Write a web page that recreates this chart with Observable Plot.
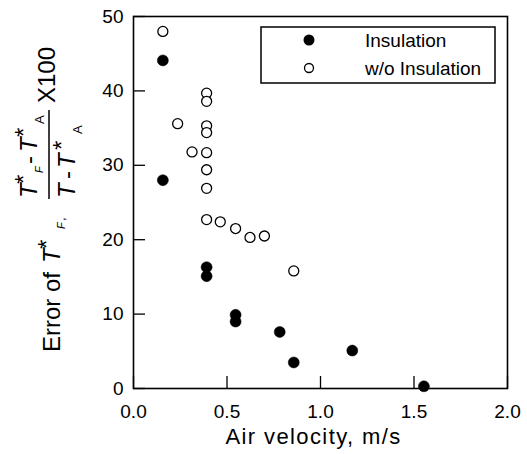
<!DOCTYPE html>
<html>
<head>
<meta charset="utf-8">
<script src="https://cdn.jsdelivr.net/npm/d3@7"></script>
<script src="https://cdn.jsdelivr.net/npm/@observablehq/plot@0.6"></script>
<style>
  html, body { margin: 0; padding: 0; background: white; }
  #wrap { position: relative; width: 527px; height: 454px; font-family: "Liberation Sans", Arial, sans-serif; }
  #wrap > svg { position: absolute; left: 0; top: 0; }
  .overlay { pointer-events: none; }
</style>
</head>
<body>
<div id="wrap"></div>
<script>
// ---- data ----
const velInsulation = [0.157, 0.157, 0.391, 0.391, 0.546, 0.546, 0.782, 0.857, 1.17, 1.553];
const errInsulation = [44.1, 28.0, 16.3, 15.1, 9.9, 9.0, 7.6, 3.5, 5.1, 0.3];
const velNoInsulation = [0.157, 0.236, 0.313, 0.391, 0.391, 0.391, 0.391, 0.391, 0.391, 0.391, 0.391, 0.464, 0.546, 0.623, 0.700, 0.857];
const errNoInsulation = [48.0, 35.6, 31.8, 39.7, 38.6, 35.3, 34.4, 31.7, 29.4, 26.9, 22.7, 22.4, 21.5, 20.3, 20.5, 15.8];
const xTicks = [0, 0.5, 1.0, 1.5, 2.0];
const yTicks = [0, 10, 20, 30, 40, 50];
const seriesNames = ["Insulation", "w/o Insulation"];
const xTitle = "Air velocity, m/s";

const ins = velInsulation.map((v, i) => ({v, e: errInsulation[i]}));
const noIns = velNoInsulation.map((v, i) => ({v, e: errNoInsulation[i]}));

const font = "Liberation Sans, Arial, sans-serif";

const chart = Plot.plot({
  width: 527, height: 454,
  marginLeft: 133, marginRight: 20, marginTop: 16, marginBottom: 66,
  style: {fontFamily: font, fontSize: "19px", background: "white", color: "black", overflow: "visible"},
  x: {domain: [0, 2]},
  y: {domain: [0, 50]},
  marks: [
    Plot.axisX({ticks: xTicks, tickSize: -12, tickPadding: 28, tickFormat: d => d.toFixed(1), label: xTitle, labelAnchor: "center", labelOffset: 55, labelArrow: "none", strokeWidth: 1.3}),
    Plot.axisY({ticks: yTicks, tickSize: -12, tickPadding: 22, label: null, strokeWidth: 1.3}),
    Plot.frame({stroke: "black", strokeWidth: 1.6}),
    Plot.dot(noIns, {x: "v", y: "e", r: 5, stroke: "black", strokeWidth: 1.3, fill: "white"}),
    Plot.dot(ins, {x: "v", y: "e", r: 5.5, fill: "black", stroke: "black", strokeWidth: 0.5})
  ]
});
// enlarge axis title
d3.select(chart).selectAll("text").filter(function() { return this.textContent === xTitle; })
  .attr("font-size", 22).attr("dx", -7).style("letter-spacing", "1.4px");

const wrap = document.getElementById("wrap");
wrap.appendChild(chart);

// ---- overlay: legend + y-axis title ----
const ov = d3.select(wrap).append("svg").attr("class", "overlay")
  .attr("width", 527).attr("height", 454).attr("font-family", font);

// legend
const lg = ov.append("g");
lg.append("rect").attr("x", 261).attr("y", 27).attr("width", 234).attr("height", 56)
  .attr("fill", "white").attr("stroke", "black").attr("stroke-width", 1.5);
lg.append("circle").attr("cx", 309).attr("cy", 40).attr("r", 5.5).attr("fill", "black");
lg.append("circle").attr("cx", 309).attr("cy", 68).attr("r", 4.5).attr("fill", "white").attr("stroke", "black").attr("stroke-width", 1.3);
lg.append("text").attr("x", 365).attr("y", 47).attr("font-size", 19).text(seriesNames[0]);
lg.append("text").attr("x", 365).attr("y", 75).attr("font-size", 19).text(seriesNames[1]);

// y title (rotated; x = -screenY, y = screenX)
const yt = ov.append("g").attr("transform", "rotate(-90)").attr("fill", "black");

function glyph(parent, str, x, y, size, italic) {
  const t = parent.append("text").attr("x", x).attr("y", y).attr("font-size", size).text(str);
  if (italic) t.attr("font-style", "italic");
  return t;
}

// "Error of T*F,"
glyph(yt, "Error of", -352, 60, 24, false);
glyph(yt, "T", -263, 60, 24, true);
glyph(yt, "*", -249, 55, 24, false);
glyph(yt, "F", -229, 65, 11, true);
glyph(yt, ",", -221, 65, 13, false);

// numerator: T*F - T*A
glyph(yt, "T", -198, 37, 24, true);
glyph(yt, "*", -184, 32, 24, false);
glyph(yt, "F", -173, 43, 11, true);
glyph(yt, "-", -164, 37, 24, false);
glyph(yt, "T", -152, 37, 24, true);
glyph(yt, "*", -137, 32, 24, false);
glyph(yt, "A", -124, 44, 13, false);

// fraction bar
yt.append("line").attr("x1", -199).attr("x2", -110).attr("y1", 49).attr("y2", 49)
  .attr("stroke", "black").attr("stroke-width", 1.5);

// denominator: T - T*A
glyph(yt, "T", -198, 75, 24, true);
glyph(yt, "-", -179, 75, 24, false);
glyph(yt, "T", -168, 75, 24, true);
glyph(yt, "*", -150, 70, 24, false);
glyph(yt, "A", -134, 82, 13, false);

// X100
glyph(yt, "X100", -103, 55, 24, false);
</script>
</body>
</html>
